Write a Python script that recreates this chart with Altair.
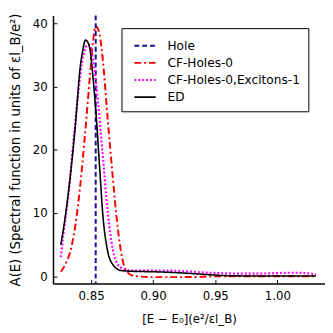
import altair as alt
import pandas as pd

series_names = ["Hole", "CF-Holes-0", "CF-Holes-0,Excitons-1", "ED"]
series_colors = ["#1010a0", "#ff0000", "#ff00ff", "#000000"]
series_dash = [[5, 3], [7, 3, 2, 3], [2, 2], [1, 0]]

hole_x = [0.8537]

cf_x = [0.8256, 0.8293, 0.8332, 0.8372, 0.8411, 0.845, 0.849, 0.8516, 0.8537, 0.8568,
        0.8595, 0.8634, 0.8673, 0.8713, 0.8752, 0.8792, 0.8844, 0.90, 0.92, 0.94, 0.955,
        0.98, 1.0312]
cf_y = [0.7, 1.9, 3.9, 7.9, 14.1, 22.3, 31.6, 37.3, 39.6, 38.3,
        34.1, 24.8, 16.0, 7.9, 2.7, 0.6, 0.05, -0.15, -0.15, -0.1, 0.0,
        0.0, 0.0]

cfe_x = [0.8256, 0.8279, 0.8319, 0.8358, 0.8398, 0.8437, 0.8476, 0.8516, 0.8555, 0.8595,
         0.8634, 0.8673, 0.8713, 0.8766, 0.882, 0.90, 0.92, 0.94, 0.96, 0.98, 0.995,
         1.01, 1.022, 1.0312]
cfe_y = [3.0, 7.0, 13.2, 21.5, 29.3, 34.9, 36.7, 34.4, 27.7, 18.9,
         10.1, 4.4, 1.9, 1.1, 0.9, 0.9, 0.85, 0.6, 0.45, 0.4, 0.45,
         0.55, 0.5, 0.25]

ed_x = [0.8256, 0.8293, 0.8332, 0.8372, 0.8411, 0.8433, 0.8455, 0.8472, 0.849, 0.8516,
        0.8542, 0.8568, 0.8595, 0.8634, 0.8673, 0.8739, 0.880, 0.887, 0.90, 0.92, 0.94,
        0.96, 0.98, 1.00, 1.0312]
ed_y = [4.96, 9.6, 15.8, 23.6, 32.9, 35.8, 37.4, 37.1, 36.0, 31.3,
        25.1, 17.4, 9.6, 3.9, 1.9, 0.9, 0.8, 0.75, 0.7, 0.55, 0.3,
        0.08, 0.03, 0.02, 0.02]

x_ticks = [0.85, 0.90, 0.95, 1.00]
y_ticks = [0, 10, 20, 30, 40]

curves = pd.concat([
    pd.DataFrame({"x": cf_x, "y": cf_y, "series": "CF-Holes-0"}),
    pd.DataFrame({"x": cfe_x, "y": cfe_y, "series": "CF-Holes-0,Excitons-1"}),
    pd.DataFrame({"x": ed_x, "y": ed_y, "series": "ED"}),
], ignore_index=True)
hole = pd.DataFrame({"x": hole_x, "series": "Hole"})

W, H = 278, 274
xs = alt.Scale(domain=[0.8193, 1.0384], nice=False, zero=False)
ys = alt.Scale(domain=[-1.16, 41.3], nice=False, zero=False)

color = alt.Color("series:N", scale=alt.Scale(domain=series_names, range=series_colors),
                  legend=alt.Legend(
                      title=None, orient="none", legendX=70, legendY=13,
                      padding=8, strokeColor="black", fillColor="white",
                      symbolType="M-1.25,0H1.25", symbolSize=300, symbolStrokeWidth=2,
                      symbolOffset=6, labelOffset=13, rowPadding=0.5,
                      labelFontSize=12.4, labelFont="DejaVu Sans", labelColor="black"))
dash = alt.StrokeDash("series:N", scale=alt.Scale(domain=series_names, range=series_dash),
                      legend=None)

hole_layer = alt.Chart(hole).mark_rule(strokeWidth=2).encode(
    x=alt.X("x:Q", scale=xs, axis=None), color=color, strokeDash=dash)

def curve_layer(name, width, first=False):
    if first:
        xa = alt.Axis(values=x_ticks, format=".2f", ticks=False, domainColor="black",
                      domainWidth=1.5, labelFontSize=12, labelPadding=7, labelColor="black",
                      labelFont="DejaVu Sans", grid=False,
                      title="[E − E₀](e²/εl_B)", titleFontSize=12, titleFontWeight="normal",
                      titleFont="DejaVu Sans", titlePadding=13, titleColor="black")
        ya = alt.Axis(values=y_ticks, ticks=False, domainColor="black", domainWidth=1.5,
                      labelFontSize=12, labelPadding=6, labelColor="black",
                      labelFont="DejaVu Sans", grid=False,
                      title="A(E) (Spectral function in units of εl_B/e²)", titleFontSize=13.5,
                      titleFontWeight="normal", titleFont="DejaVu Sans", titlePadding=10,
                      titleColor="black")
    else:
        xa = None
        ya = None
    return alt.Chart(curves).transform_filter(alt.datum.series == name).mark_line(
        strokeWidth=width, interpolate="monotone").encode(
        x=alt.X("x:Q", scale=xs, axis=xa),
        y=alt.Y("y:Q", scale=ys, axis=ya),
        color=color, strokeDash=dash)

tick_layer = alt.Chart(curves).mark_point(opacity=0).encode(
    x=alt.X("x:Q", scale=xs, axis=alt.Axis(orient="top", offset=-H, values=x_ticks,
                                           labels=False, domain=False, tickSize=4,
                                           tickColor="black", tickWidth=1, title=None,
                                           grid=False)),
    y=alt.Y("y:Q", scale=ys, axis=alt.Axis(orient="right", offset=-W, values=y_ticks,
                                           labels=False, domain=False, tickSize=4,
                                           tickColor="black", tickWidth=1, title=None,
                                           grid=False)))

chart = alt.layer(
    curve_layer("CF-Holes-0", 2, first=True),
    hole_layer,
    curve_layer("CF-Holes-0,Excitons-1", 2.2),
    curve_layer("ED", 1.6),
    tick_layer,
).resolve_axis(x="independent", y="independent").properties(
    width=W, height=H,
    autosize=alt.AutoSizeParams(type="none"),
    padding={"left": 46, "top": 4, "right": 0, "bottom": 47},
).configure_view(stroke=None)

chart.save("out.html", embed_options={"renderer": "svg", "actions": False})
